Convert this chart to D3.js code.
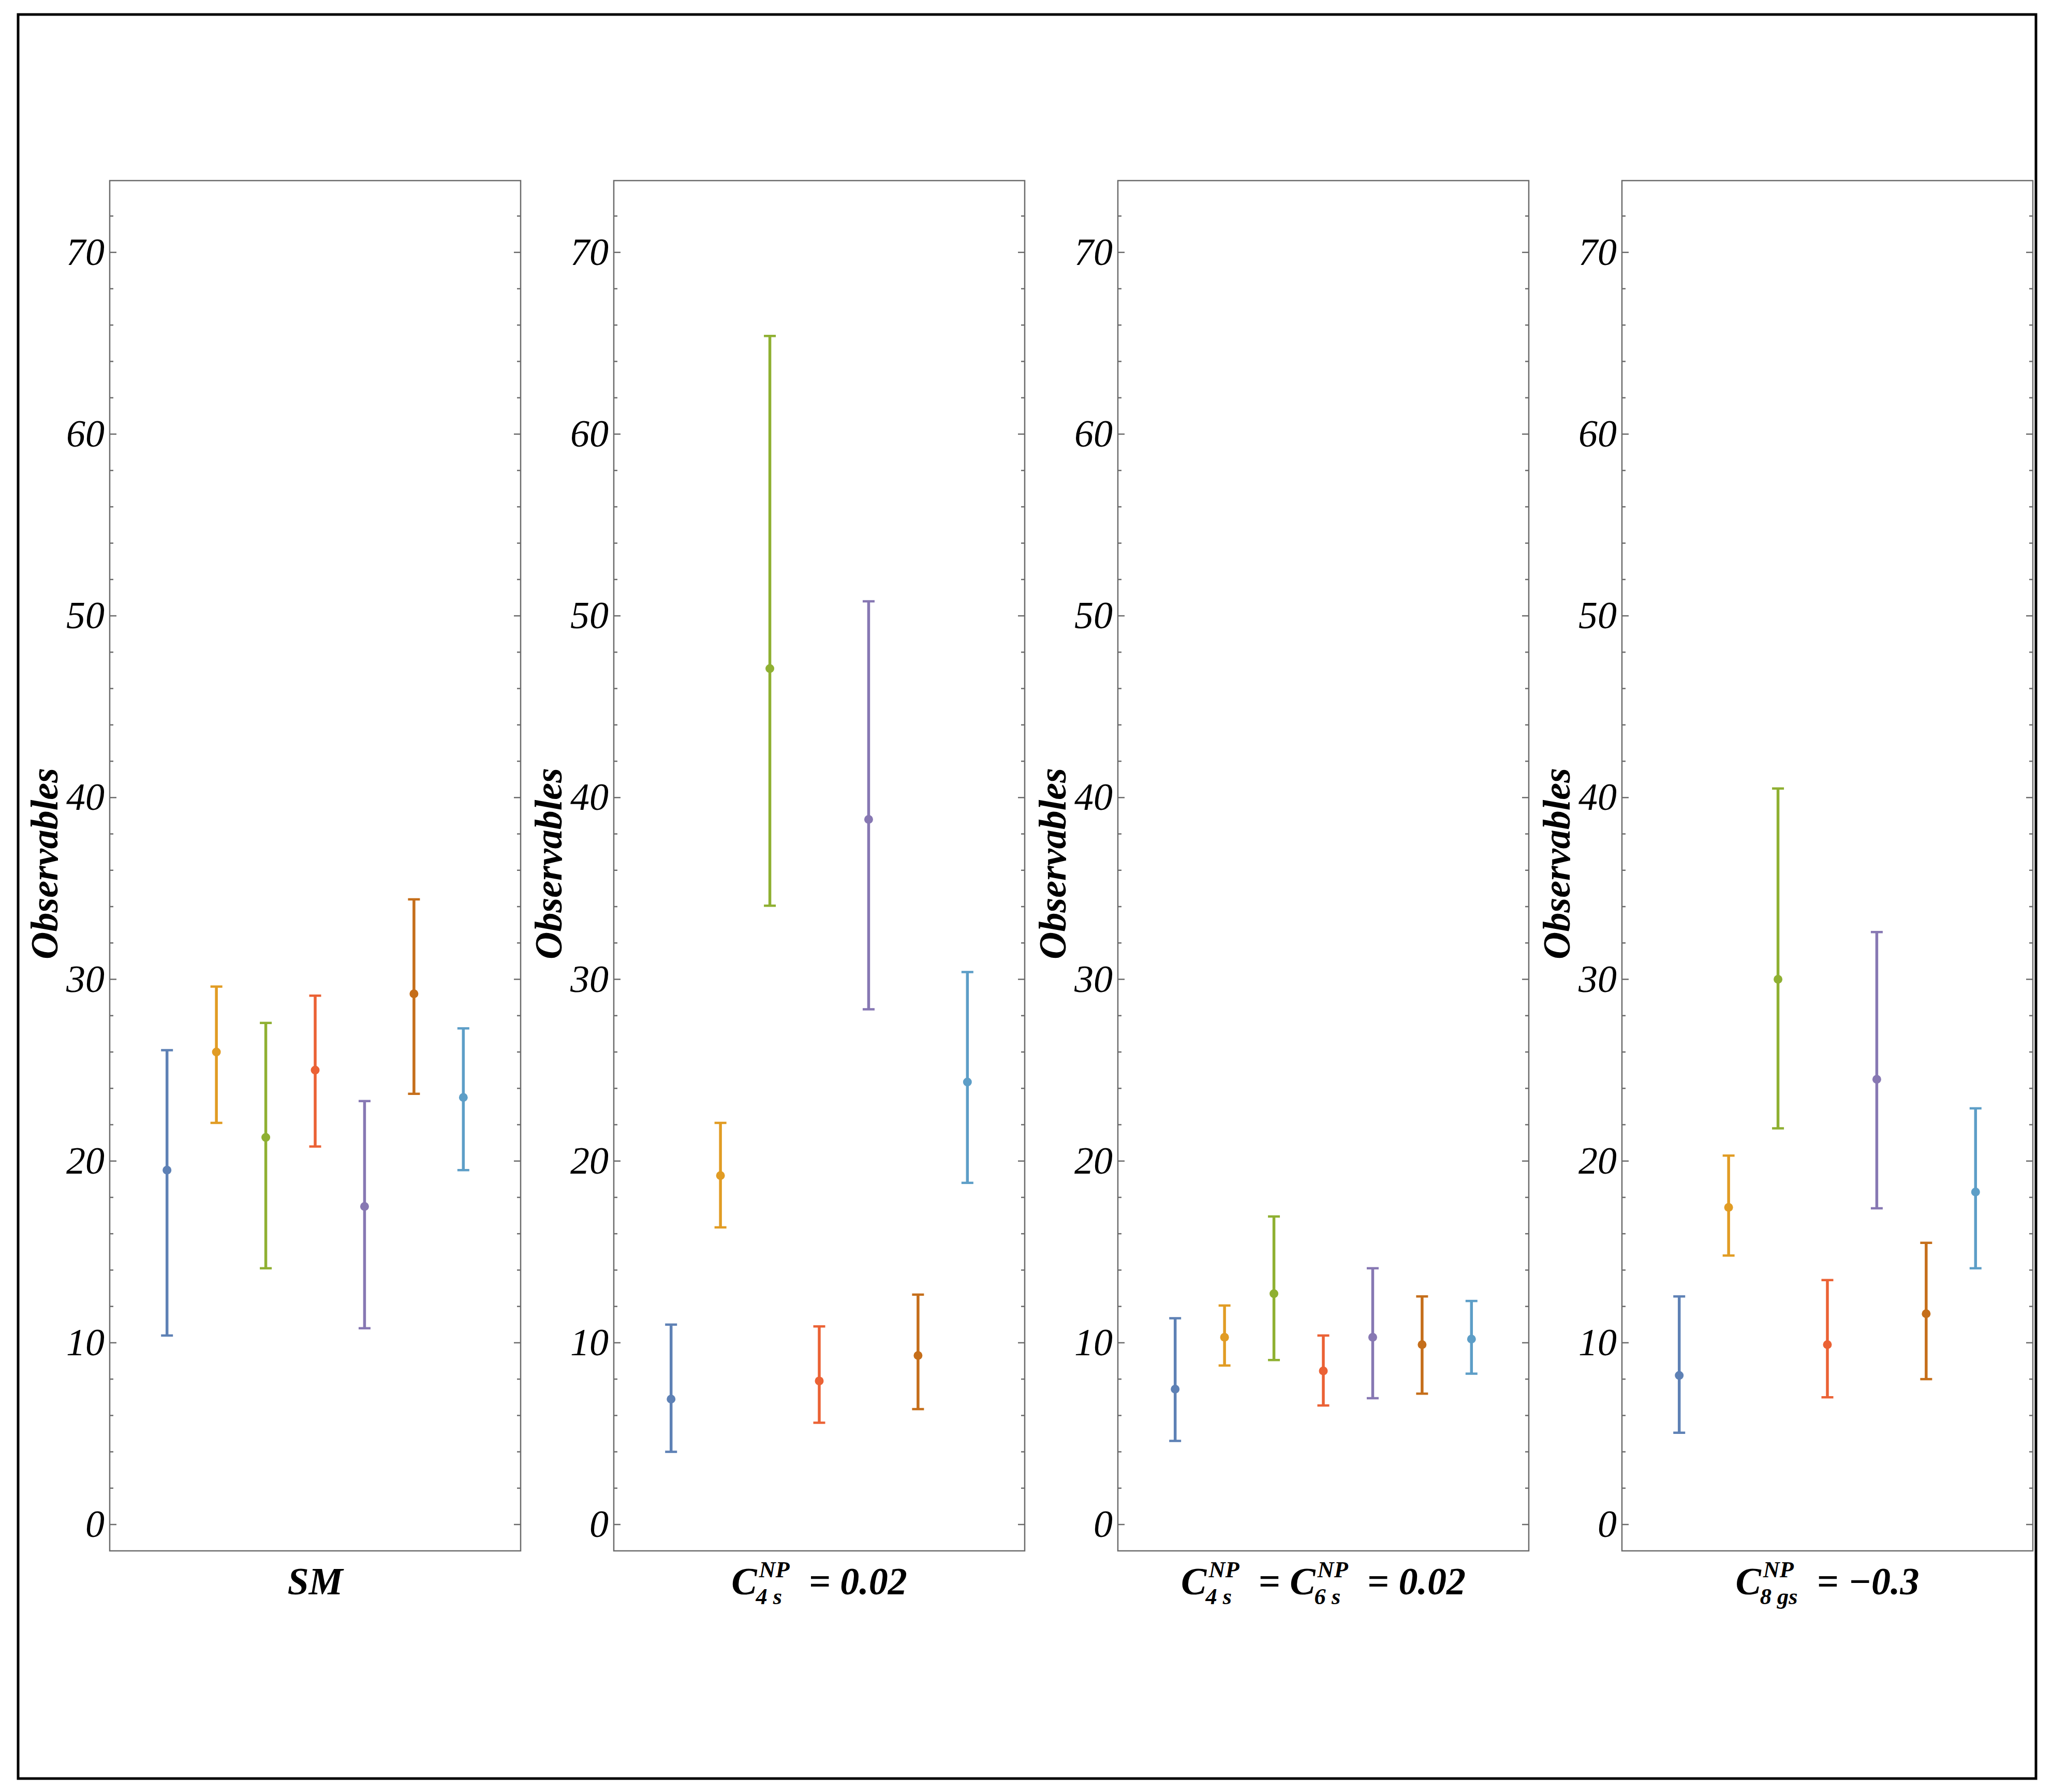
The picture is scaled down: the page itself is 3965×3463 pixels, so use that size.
<!DOCTYPE html>
<html>
<head>
<meta charset="utf-8">
<script src="https://cdn.jsdelivr.net/npm/d3@7"></script>
<style>
  body { margin: 0; background: #fff; }
  text { font-family: "Liberation Serif", "Times New Roman", serif; white-space: pre; }
</style>
</head>
<body>
<div id="chart"></div>
<script>
// data (central value, lower and upper end of each bar)
const series = ["s1", "s2", "s3", "s4", "s5", "s6", "s7"]
const colors = ["#5E81B5", "#E19C24", "#8FB032", "#EB6235", "#8778B3", "#C56E1A", "#5D9EC7"]

const smCenter = [19.5, 26.0, 21.3, 25.0, 17.5, 29.2, 23.5]
const smLow    = [10.4, 22.1, 14.1, 20.8, 10.8, 23.7, 19.5]
const smHigh   = [26.1, 29.6, 27.6, 29.1, 23.3, 34.4, 27.3]

const c4Center = [6.9, 19.2, 47.1, 7.9, 38.8, 9.3, 24.35]
const c4Low    = [4.0, 16.35, 34.05, 5.6, 28.35, 6.35, 18.8]
const c4High   = [11.0, 22.1, 65.4, 10.9, 50.8, 12.65, 30.4]

const c46Center = [7.45, 10.3, 12.7, 8.45, 10.3, 9.9, 10.2]
const c46Low    = [4.6, 8.75, 9.05, 6.55, 6.95, 7.2, 8.3]
const c46High   = [11.35, 12.05, 16.95, 10.4, 14.1, 12.55, 12.3]

const c8Center = [8.2, 17.45, 30.0, 9.9, 24.5, 11.6, 18.3]
const c8Low    = [5.05, 14.8, 21.8, 7.0, 17.4, 8.0, 14.1]
const c8High   = [12.55, 20.3, 40.5, 13.45, 32.6, 15.5, 22.9]

const yTicks = [0, 10, 20, 30, 40, 50, 60, 70]
const yLabel = "Observables"

// panel labels: plain strings or {base, sup, sub} pieces
const labelSM   = ["SM"]
const labelC4   = [{base: "C", sup: "NP", sub: "4 s"}, "  = 0.02"]
const labelC46  = [{base: "C", sup: "NP", sub: "4 s"}, "  = ", {base: "C", sup: "NP", sub: "6 s"}, "  = 0.02"]
const labelC8   = [{base: "C", sup: "NP", sub: "8 gs"}, "  = \u22120.3"]

const panels = [
    {label: labelSM,  center: smCenter,  low: smLow,  high: smHigh},
    {label: labelC4,  center: c4Center,  low: c4Low,  high: c4High},
    {label: labelC46, center: c46Center, low: c46Low, high: c46High},
    {label: labelC8,  center: c8Center,  low: c8Low,  high: c8High}
]

// layout
const W = 3965, H = 3463
const panelLeft = 212, panelStep = 974
const panelW = 794
const panelTop = 349, panelH = 2648
const fontSize = 74

const svg = d3.select("#chart").append("svg")
    .attr("width", W)
    .attr("height", H)

const xScale = d3.scaleLinear()
    .domain([-0.16, 8.16])
    .range([0, panelW])

const yScale = d3.scaleLinear()
    .domain([-1.45, 73.95])
    .range([panelH, 0])

const minorTicks = d3.range(0, 74, 2).filter(d => d % 10 !== 0)

function drawLabel(g, parts, cx, y) {
    const t = g.append("g").attr("font-weight", "bold").attr("font-style", "italic")
    let x = 0
    parts.forEach(p => {
        if (typeof p === "string") {
            const el = t.append("text").attr("x", x).attr("y", 0)
                .attr("font-size", fontSize).text(p)
            x += el.node().getComputedTextLength()
        } else {
            const b = t.append("text").attr("x", x).attr("y", 0)
                .attr("font-size", fontSize).text(p.base)
            const wb = b.node().getComputedTextLength()
            const sup = t.append("text").attr("x", x + wb + 4).attr("y", -33)
                .attr("font-size", fontSize * 0.6).text(p.sup)
            const sub = t.append("text").attr("x", x + wb - 2).attr("y", 19)
                .attr("font-size", fontSize * 0.6).text(p.sub)
            x += wb + Math.max(sup.node().getComputedTextLength() + 4,
                               sub.node().getComputedTextLength() - 2)
        }
    })
    t.attr("transform", `translate(${cx - x / 2},${y})`)
}

panels.forEach((p, i) => {
    const g = svg.append("g")
        .attr("transform", `translate(${panelLeft + i * panelStep},${panelTop})`)

    // labelled ticks on the left
    const yAxisL = d3.axisLeft(yScale).tickValues(yTicks).tickSize(0).tickFormat(d3.format("d"))
    const gAxis = g.append("g").call(yAxisL)
    gAxis.select(".domain").remove()
    gAxis.selectAll("text")
        .attr("x", -10)
        .attr("font-size", fontSize)
        .attr("font-style", "italic")
        .attr("font-family", "Liberation Serif, serif")
        .attr("fill", "#000")

    // tick marks on both sides, major and minor
    const tickSpec = [[yTicks, 13], [minorTicks, 7]]
    tickSpec.forEach(([vals, len]) => {
        g.selectAll(null).data(vals).join("line")
            .attr("x1", 0).attr("x2", len)
            .attr("y1", d => yScale(d)).attr("y2", d => yScale(d))
            .attr("stroke", "#6b6b6b").attr("stroke-width", 2.5)
        g.selectAll(null).data(vals).join("line")
            .attr("x1", panelW - len).attr("x2", panelW)
            .attr("y1", d => yScale(d)).attr("y2", d => yScale(d))
            .attr("stroke", "#6b6b6b").attr("stroke-width", 2.5)
    })

    g.append("rect")
        .attr("width", panelW).attr("height", panelH)
        .attr("fill", "none")
        .attr("stroke", "#6b6b6b")
        .attr("stroke-width", 2.5)

    // error bars
    const data = series.map((s, k) => ({
        x: k + 1, c: p.center[k], lo: p.low[k], hi: p.high[k], color: colors[k]
    }))
    const bars = g.selectAll(".bar").data(data).join("g").attr("class", "bar")
    bars.append("line")
        .attr("x1", d => xScale(d.x)).attr("x2", d => xScale(d.x))
        .attr("y1", d => yScale(d.lo)).attr("y2", d => yScale(d.hi))
        .attr("stroke", d => d.color).attr("stroke-width", 5.5)
    ;["lo", "hi"].forEach(k => {
        bars.append("line")
            .attr("x1", d => xScale(d.x) - 11.5).attr("x2", d => xScale(d.x) + 11.5)
            .attr("y1", d => yScale(d[k])).attr("y2", d => yScale(d[k]))
            .attr("stroke", d => d.color).attr("stroke-width", 4.5)
    })
    bars.append("circle")
        .attr("cx", d => xScale(d.x)).attr("cy", d => yScale(d.c))
        .attr("r", 8.5)
        .attr("fill", d => d.color)

    // axis label
    g.append("text")
        .attr("transform", `translate(-101,${panelH / 2 - 4}) rotate(-90)`)
        .attr("text-anchor", "middle")
        .attr("font-size", fontSize)
        .attr("font-weight", "bold")
        .attr("font-style", "italic")
        .text(yLabel)

    drawLabel(g, p.label, panelW / 2, panelH + 84)
})

// outer frame
svg.append("rect")
    .attr("x", 35).attr("y", 28)
    .attr("width", 3899).attr("height", 3409)
    .attr("fill", "none")
    .attr("stroke", "#000")
    .attr("stroke-width", 5)
</script>
</body>
</html>
